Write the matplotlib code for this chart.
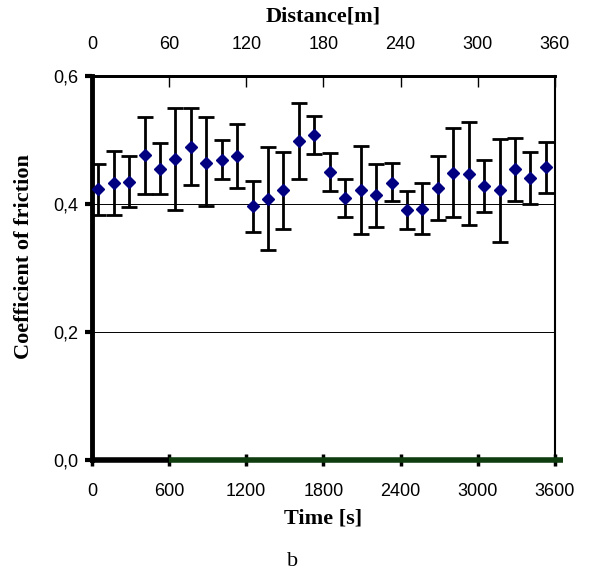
import matplotlib.pyplot as plt
import numpy as np

# time of each measurement [s]
time_s = np.arange(30) * 120 + 50
mu = [0.423, 0.433, 0.434, 0.476, 0.455, 0.470, 0.489, 0.464, 0.469, 0.474,
      0.396, 0.408, 0.421, 0.498, 0.507, 0.450, 0.409, 0.421, 0.413, 0.433,
      0.390, 0.392, 0.424, 0.448, 0.447, 0.427, 0.421, 0.454, 0.441, 0.457]
mu_top = [0.462, 0.483, 0.474, 0.535, 0.495, 0.550, 0.550, 0.535, 0.499, 0.525,
          0.436, 0.488, 0.481, 0.558, 0.537, 0.479, 0.439, 0.491, 0.462, 0.463,
          0.420, 0.433, 0.474, 0.518, 0.527, 0.468, 0.501, 0.503, 0.481, 0.497]
mu_bot = [0.383, 0.383, 0.395, 0.416, 0.415, 0.390, 0.430, 0.396, 0.439, 0.425,
          0.356, 0.328, 0.361, 0.439, 0.477, 0.420, 0.379, 0.352, 0.364, 0.404,
          0.360, 0.353, 0.374, 0.379, 0.367, 0.387, 0.341, 0.404, 0.400, 0.417]

x_ticks = [0, 600, 1200, 1800, 2400, 3000, 3600]
dist_ticks = [0, 60, 120, 180, 240, 300, 360]
y_ticks = [0.0, 0.2, 0.4, 0.6]
y_labels = ["0,0", "0,2", "0,4", "0,6"]

mu = np.array(mu)
yerr = [mu - np.array(mu_bot), np.array(mu_top) - mu]

fig = plt.figure(figsize=(5.89, 5.74), dpi=100)
ax = fig.add_axes([0.156, 0.199, 0.786, 0.669])

for g in [0.2, 0.4]:
    ax.axhline(g, color="black", lw=0.7, zorder=1)

ax.errorbar(time_s, mu, yerr=yerr, fmt="D", color="#000080", ms=6,
            ecolor="black", elinewidth=2, capsize=5.5, capthick=2, zorder=3)

ax.set_xlim(0, 3600)
ax.set_ylim(0, 0.6)

# spines
ax.spines["left"].set_linewidth(3.5)
ax.spines["top"].set_linewidth(2)
ax.spines["right"].set_linewidth(1.5)
ax.spines["bottom"].set_visible(False)
ax.plot([0, 600], [0, 0], color="black", lw=4, clip_on=False, zorder=4,
        solid_capstyle="butt")
ax.plot([600, 3660], [0, 0], color="#0f3d0f", lw=4, clip_on=False, zorder=4,
        solid_capstyle="butt")

ax.set_xticks(x_ticks)
ax.set_xticklabels([str(v) for v in x_ticks], fontsize=13, family="Liberation Sans")
ax.tick_params(axis="x", direction="inout", length=8, width=2.5, pad=13)
ax.set_yticks(y_ticks)
ax.set_yticklabels(y_labels, fontsize=13, family="Liberation Sans")
ax.tick_params(axis="y", direction="out", length=5, width=3, pad=5)

ax.set_xlabel("Time [s]", fontsize=16, fontweight="bold", family="Liberation Serif",
              labelpad=6)
ax.set_ylabel("Coefficient of friction", fontsize=16, fontweight="bold",
              family="Liberation Serif")
ax.yaxis.set_label_coords(-0.125, 0.53)

sec = ax.secondary_xaxis("top", functions=(lambda x: x / 10, lambda x: x * 10))
sec.set_xticks(dist_ticks)
sec.set_xticklabels([str(v) for v in dist_ticks], fontsize=13, family="Liberation Sans")
sec.tick_params(direction="in", length=8, width=1, pad=16.5)
sec.spines["top"].set_linewidth(2)
sec.set_xlabel("Distance[m]", fontsize=16, fontweight="bold",
               family="Liberation Serif", labelpad=10)

fig.text(0.496, 0.021, "b", fontsize=16, family="Liberation Serif",
         ha="center", va="center")

fig.savefig("out.png", dpi=100)
